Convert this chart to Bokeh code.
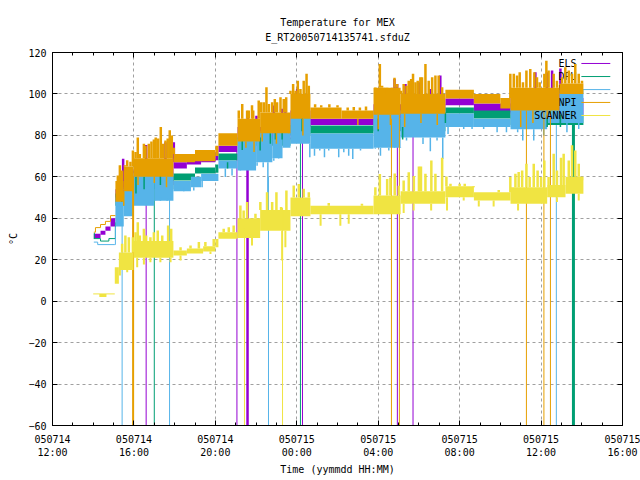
from bokeh.plotting import figure
from bokeh.embed import file_html
from bokeh.resources import INLINE
from bokeh.models import FixedTicker, LinearAxis, Title
from bokeh.core.properties import value

MONO = "DejaVu Sans Mono"
PURPLE, GREEN, BLUE, ORANGE, YELLOW = "#9400D3", "#009E73", "#56B4E9", "#E69F00", "#F0E442"

title_lines = ["Temperature for MEX", "E_RT20050714135741.sfduZ"]
x_tick_hours = [0, 4, 8, 12, 16, 20, 24, 28]
x_tick_labels = ["050714\n12:00", "050714\n16:00", "050714\n20:00", "050715\n00:00",
                 "050715\n04:00", "050715\n08:00", "050715\n12:00", "050715\n16:00"]
y_ticks = [-60, -40, -20, 0, 20, 40, 60, 80, 100, 120]
legend_names = ["ELS", "DPU", "NPD", "NPI", "SCANNER"]
legend_levels = [114.7, 108.4, 102.1, 95.9, 89.6]

orange_start_t = [2.03, 2.11, 2.36, 2.6, 2.85, 3.09]
orange_start_v = [33.3, 35.5, 37, 38.5, 41.3, 41.3]
green_start_t = [2.03, 2.36, 2.77, 3.02, 3.09]
green_start_v = [30.2, 29, 30.2, 30.2, 38]
blue_start_t = [2.03, 2.22, 3.06, 3.09]
blue_start_v = [28.5, 27.3, 27.3, 36]
yellow_start_t = [2.0, 3.06]
yellow_start_v = [3.5, 3.5]

orange_l = [3.09, 3.5, 3.98, 5.94, 7.0, 8.0, 8.15, 9.09, 10.2, 11.69, 12.67, 14.2, 15.77, 17.1, 19.3, 20.7, 22.0, 22.5, 24.9]
orange_r = [3.5, 3.98, 5.94, 7.0, 8.0, 8.15, 9.09, 10.2, 11.69, 12.67, 14.2, 15.77, 17.1, 19.3, 20.7, 22.0, 22.5, 24.9, 26.08]
orange_lo = [48, 53, 60, 67, 67.5, 70, 75, 77, 81, 88, 88, 88, 90, 90.5, 97.8, 95.4, 93, 92, 100]
orange_hi = [58, 65, 69, 71, 73, 75, 81, 88, 91, 100, 93.5, 92, 103, 100, 102, 100, 98, 103, 105]

purple_l = [2.03, 2.36, 2.6, 2.85, 3.09, 3.98, 5.94, 6.6, 7.3, 8.0, 8.15, 9.09, 11.69, 12.67, 15.77, 19.3, 20.7, 22.5]
purple_r = [2.36, 2.6, 2.85, 3.09, 3.98, 5.94, 6.6, 7.3, 8.0, 8.15, 9.09, 11.69, 12.67, 15.77, 19.3, 20.7, 22.5, 26.08]
purple_lo = [30.5, 32, 34, 36, 48, 56, 64, 66, 67, 68, 72, 78, 84, 85, 88, 94.5, 91, 90]
purple_hi = [32.5, 34, 36, 40, 54, 64, 67, 69, 70.3, 72, 75, 84, 92, 88, 95, 97.8, 95.4, 98]

green_l = [2.03, 3.09, 3.98, 5.94, 7.0, 8.0, 8.15, 9.09, 11.69, 12.67, 15.77, 19.3, 20.7, 22.5]
green_r = [2.08, 3.98, 5.94, 7.0, 8.0, 8.15, 9.09, 11.69, 12.67, 15.77, 19.3, 20.7, 22.5, 26.08]
green_lo = [30, 46, 54, 58.2, 61.6, 62, 67.9, 75, 80, 80.9, 82, 90.6, 88.2, 85]
green_hi = [33, 52, 60, 61.6, 64.5, 66, 71.2, 79, 85, 84.8, 88, 93.5, 92, 90]

blue_l = [3.09, 3.5, 3.98, 5.0, 5.94, 6.8, 7.3, 8.15, 9.09, 10.0, 10.8, 11.3, 11.69, 12.67, 15.77, 17.1, 19.3, 20.7, 22.5, 24.3, 24.9]
blue_r = [3.5, 3.98, 5.0, 5.94, 6.8, 7.3, 8.15, 9.09, 10.0, 10.8, 11.3, 11.69, 12.67, 15.77, 17.1, 19.3, 20.7, 22.5, 24.3, 24.9, 26.08]
blue_lo = [36, 41, 46, 48.5, 53, 55, 58, 64, 63, 67, 69, 74, 76, 73.6, 74, 79, 84, 84, 83, 86, 86]
blue_hi = [50, 55, 62, 62, 58, 60, 61.5, 67.9, 79, 82, 84, 86, 90, 80.9, 92, 92, 90.6, 88, 94, 96, 102]

yellow_l = [2.3, 3.06, 3.26, 3.98, 5.94, 6.6, 7.4, 8.0, 8.15, 9.09, 10.2, 11.69, 12.67, 15.77, 17.1, 19.3, 20.7, 22.5, 24.3, 25.2]
yellow_r = [2.65, 3.26, 3.98, 5.94, 6.6, 7.4, 8.0, 8.15, 9.09, 10.2, 11.69, 12.67, 15.77, 17.1, 19.3, 20.7, 22.5, 24.3, 25.2, 26.08]
yellow_lo = [2, 8.4, 15, 21, 22, 23, 24, 26, 30.1, 30.5, 34, 41, 42, 42, 47, 50.2, 48.6, 47, 50.2, 51.8]
yellow_hi = [3.5, 16.4, 23.5, 29, 24.5, 25.4, 26.5, 30, 33.3, 40, 44, 50, 46, 51, 53, 55.4, 52.6, 55, 56, 60]

orange_peak_t = [3.21, 3.31, 3.42, 3.55, 3.67, 3.83, 3.95, 4.08, 4.19, 4.29, 4.49, 4.57, 4.73, 4.86, 4.98, 5.07, 5.19, 5.32, 5.42, 5.55, 5.66, 5.76, 5.86, 5.96,
                 9.15, 9.32, 9.56, 9.64, 9.8, 9.86, 10.13, 10.25, 10.38, 10.51, 10.63, 10.79, 10.92, 11.03, 11.2, 11.36, 11.48, 11.69, 11.82, 11.94, 12.05, 12.18, 12.34, 12.48, 12.59,
                 12.9, 13.2, 13.6, 14.0, 14.5, 14.8, 15.1, 15.4,
                 15.86, 16.08, 16.19, 16.31, 16.44, 16.68, 16.8, 16.93, 17.12, 17.25, 17.39, 17.5, 17.62, 17.71, 17.83, 17.94, 18.07, 18.15, 18.32, 18.48, 18.65, 18.81, 18.97, 19.14,
                 22.49, 22.66, 22.82, 22.95, 23.11, 23.28, 23.47, 23.67, 23.8, 23.93, 24.16, 24.26, 24.37, 24.62, 24.78, 25.03, 25.19, 25.36, 25.52, 25.68, 25.85, 26.01]
orange_peak_v = [60.7, 65.6, 63, 65.6, 68, 67.3, 72.7, 72, 79, 71, 76, 75, 76, 77, 78, 79, 78.5, 84, 76, 77.5, 78.5, 82.5, 80, 74,
                 92, 95.2, 92, 92, 94.5, 92, 96.8, 96, 96, 103.2, 95.2, 96, 97.6, 96, 98.4, 97.6, 98.4, 101.6, 104.8, 101.6, 106.4, 102.4, 106.4, 109.7, 104,
                 95, 94.5, 95, 94.5, 93.5, 93.7, 93.5, 94,
                 103.2, 114.5, 104, 100, 102.4, 101.6, 107.8, 104.8, 101.6, 104.8, 104, 106.4, 107.2, 109.7, 105.6, 106.4, 108, 108, 114.5, 106.4, 108, 108.9, 108.9, 103.2,
                 109.7, 109.7, 108.9, 110.5, 105.6, 111.3, 112, 110.5, 108, 105.6, 109.7, 116, 111.3, 109.7, 106.4, 108, 112.9, 111.3, 109.7, 114.5, 109.7, 106.4]

purple_peak_t = [3.47, 4.6, 5.55, 5.96, 9.59, 10.02, 10.87, 11.28, 11.44, 12.02, 15.91, 16.39, 16.8, 16.93, 17.34, 18.0, 18.56, 19.05, 23.72, 24.29, 24.54, 24.95]
purple_peak_v = [68.7, 75.4, 76.7, 76.7, 89.5, 89.5, 94.4, 92.8, 97.6, 102.4, 102.4, 102.4, 107.2, 104.8, 104.8, 105.6, 102.4, 108.9, 110.5, 110.5, 111.3, 112.3]

yellow_peak_t = [3.42, 3.58, 3.75, 3.95, 4.08, 4.19, 4.29, 4.49, 4.6, 4.81, 4.98, 5.17, 5.39, 5.68, 5.83, 6.29, 6.78, 7.19, 7.51, 7.92,
                 8.41, 8.66, 8.9, 9.23, 9.39, 9.56, 9.97, 10.21, 10.54, 10.79, 11.0, 11.23, 11.49, 11.85, 12.1, 12.34, 12.59, 13.57, 15.2,
                 15.86, 16.08, 16.44, 16.6, 16.81, 17.01, 17.25, 17.5, 17.75, 18.0, 18.1, 18.32, 18.61, 18.81, 19.14, 19.35, 19.55, 20.0, 20.25, 20.69, 21.92,
                 22.49, 22.74, 22.9, 23.07, 23.28, 23.44, 23.64, 23.83, 24.0, 24.16, 24.37, 24.62, 24.78, 24.98, 25.11, 25.36, 25.52, 25.68, 25.85, 26.01]
yellow_peak_v = [27.7, 31.7, 30.9, 30.9, 33.3, 38.1, 31.7, 34.9, 31.7, 30.9, 33.3, 34.1, 31.7, 36.5, 34.9, 26, 26.9, 28.5, 28.5, 30,
                 34.9, 35.7, 36.5, 46.2, 43.8, 47.8, 42.2, 47.8, 52.6, 47.8, 52.6, 45.4, 53.4, 55.8, 56.6, 54.2, 52.6, 47.4, 47,
                 55, 61.4, 59, 59.7, 61.6, 55.7, 58.2, 62.2, 60.4, 65, 65, 61.5, 67.9, 61.5, 69.2, 60.2, 56.7, 56.7, 56.7, 55, 53.7,
                 59.9, 61.5, 62.3, 63.1, 66.3, 59.9, 66.3, 63.1, 59.9, 67.9, 59.9, 71.1, 63.1, 69.2, 71.1, 67.9, 75.2, 72.7, 66.3, 58.3]

blue_dip_t = [4.57, 5.06, 5.3, 5.63, 6.45, 6.94, 7.35, 8.49, 8.82, 9.23, 9.56, 9.97, 10.05, 10.35, 10.58, 10.87, 11.11,
              12.64, 12.87, 13.13, 13.36, 13.57, 14.06, 14.31, 14.55, 14.75, 15.13, 15.45, 15.86, 16.11, 16.52, 16.8, 17.09, 17.39,
              18.2, 18.56, 18.89, 19.17, 19.43, 20.2, 20.61, 21.18, 21.84, 22.3, 22.85, 23.1, 23.64, 24.13, 25.27, 25.85]
blue_dip_v = [46.2, 48.6, 50.2, 49.4, 55, 53.4, 55, 59.9, 60.7, 63.4, 63, 63, 65.4, 64.6, 49.3, 67.8, 68.7,
              69.4, 70.2, 72.7, 69.4, 72.7, 69.4, 71.9, 70.2, 68.6, 72.7, 73.5, 73.5, 70.2, 72.7, 76.7, 74.3, 77.5,
              75.9, 72.3, 77.5, 68.6, 80.7, 83.1, 83.1, 83.1, 81.5, 81.5, 81.5, 77.5, 77.5, 79.9, 81.5, 83.1]

yellow_dip_t = [3.31, 3.67, 4.16, 4.49, 4.81, 5.3, 5.8, 6.29, 7.76, 9.8, 11.28, 11.44, 13.17, 14.14, 14.55,
                17.25, 17.74, 18.6, 19.38, 20.2, 20.94, 21.67, 22.87, 23.8, 24.78, 25.85]
yellow_dip_v = [12.4, 14, 16.4, 17.7, 18.8, 18.8, 18.8, 19.6, 22.8, 26.9, 19.6, 26, 36.4, 36.4, 37.3,
                42.5, 43.8, 43.8, 43.8, 48.6, 45.7, 45.7, 43.8, 47, 47.8, 48.6]

orange_dip_t = [3.5, 4.2, 5.0, 5.6, 9.5, 9.9, 10.3, 11.0, 11.6, 12.3, 15.0, 16.0, 16.6, 17.3, 18.1, 18.9, 23.0, 23.6, 24.3]
orange_dip_v = [46, 56, 57, 55, 74, 72, 77, 76, 83, 80, 85, 83, 85, 84, 86, 85, 84, 86, 88]

green_mark_t = [3.4, 4.1, 4.5, 5.3, 8.6, 9.32, 10.2, 10.7, 10.95, 11.28, 12.26, 16.0, 17.2, 19.3, 24.3, 24.95]
green_mark_lo = [48, 52, 54, 56, 64, 73, 72.7, 76, 78, 78, 82, 82, 78, 86, 84, 84]
green_mark_hi = [54, 60, 60, 62, 67, 79, 79, 81, 82, 84, 90, 88, 84, 91, 90, 90]

purple_drop_t = [4.6, 9.06, 12.28, 16.94, 17.71]
purple_drop_v = [58, 72, 85, 85, 85]
purple_wide_t = [9.58]
purple_wide_v = [78]
green_drop_t = [5.0, 12.18]
green_drop_v = [58, 80]
green_wide_t = [25.59]
green_wide_v = [85]
blue_drop_t = [3.42, 5.75, 10.61, 24.75]
blue_drop_v = [42, 50, 60, 85]
orange_drop_t = [16.65, 17.04, 23.28, 24.14, 24.46]
orange_drop_v = [88, 90, 92, 92, 92]
orange_wide_t = [3.96]
orange_wide_v = [60]
yellow_drop_t = [9.43, 11.3]
yellow_drop_v = [35, 45]

Y_MIN, Y_MAX = -60, 120
X_MIN, X_MAX = 0, 28

p = figure(width=640, height=480, output_backend="svg", toolbar_location=None,
           x_range=(X_MIN, X_MAX), y_range=(Y_MIN, Y_MAX),
           min_border_left=52, min_border_right=18, min_border_top=52, min_border_bottom=55,
           background_fill_color="white", border_fill_color="white")
p.outline_line_color = "black"
p.outline_line_width = 1

minor_hours = [h for h in range(X_MIN, X_MAX + 1) if h not in x_tick_hours]
xt = FixedTicker(ticks=x_tick_hours, minor_ticks=minor_hours)
yt = FixedTicker(ticks=y_ticks)


def style_axis(ax):
    ax.axis_line_color = "black"
    ax.major_tick_line_color = "black"
    ax.minor_tick_line_color = "black"
    ax.major_tick_in = 5
    ax.major_tick_out = 0
    ax.minor_tick_in = 3
    ax.minor_tick_out = 0
    ax.major_label_text_font = MONO
    ax.major_label_text_font_size = "10px"
    ax.major_label_text_color = "black"
    ax.axis_label_text_font = MONO
    ax.axis_label_text_font_size = "10px"
    ax.axis_label_text_font_style = "normal"
    ax.axis_label_text_color = "black"


p.xaxis[0].ticker = xt
p.xaxis[0].major_label_overrides = {t: s for t, s in zip(x_tick_hours, x_tick_labels)}
p.xaxis[0].axis_label = "Time (yymmdd HH:MM)"
p.xaxis[0].major_label_standoff = 8
p.xaxis[0].axis_label_standoff = 3
p.yaxis[0].ticker = yt
p.yaxis[0].axis_label = "°C"
p.yaxis[0].major_label_standoff = 6
p.yaxis[0].axis_label_standoff = 6
style_axis(p.xaxis[0])
style_axis(p.yaxis[0])
p.yaxis[0].minor_tick_line_color = None

top = LinearAxis(ticker=xt)
right = LinearAxis(ticker=yt)
p.add_layout(top, "above")
p.add_layout(right, "right")
for ax in (top, right):
    style_axis(ax)
    ax.major_label_text_font_size = "0px"
    ax.major_label_text_color = None
top.axis_label = title_lines[1]
top.axis_label_standoff = 10
right.minor_tick_line_color = None

p.xgrid.ticker = xt
p.ygrid.ticker = yt
for g in (p.xgrid[0], p.ygrid[0]):
    g.grid_line_color = "#a0a0a0"
    g.grid_line_dash = "3 3"
    g.grid_line_width = 1

KEY_TEXT_H = 25.74
KEY_LINE_L, KEY_LINE_R = 25.98, 27.4


def key(i, color):
    p.text([KEY_TEXT_H], [legend_levels[i]], text=[legend_names[i]], text_font=value(MONO),
           text_font_size="10px", text_align="right", text_baseline="middle", text_color="black")
    p.line([KEY_LINE_L, KEY_LINE_R], [legend_levels[i]] * 2, line_color=color, line_width=1)


def band(l, r, lo, hi, color):
    p.quad(left=l, right=r, bottom=lo, top=hi, fill_color=color, line_color=None)


def strokes(t, lo, hi, color, w=2.5):
    p.segment(x0=t, x1=t, y0=lo, y1=hi, line_color=color, line_width=w)


def peaks(t, v, base_l, base_r, base_hi, color):
    lo = []
    for tt in t:
        b = base_hi[0]
        for a, c, h in zip(base_l, base_r, base_hi):
            if a <= tt < c:
                b = h
        lo.append(b)
    strokes(t, lo, v, color)


def dips(t, v, base_l, base_r, base_lo, color, w=1.5):
    hi = []
    for tt in t:
        b = base_lo[0]
        for a, c, h in zip(base_l, base_r, base_lo):
            if a <= tt < c:
                b = h
        hi.append(b)
    strokes(t, v, hi, color, w)


def drops(t, v, color, w=1.0):
    strokes(t, [Y_MIN] * len(t), v, color, w)


key(0, PURPLE)
band(purple_l, purple_r, purple_lo, purple_hi, PURPLE)
peaks(purple_peak_t, purple_peak_v, purple_l, purple_r, purple_hi, PURPLE)
drops(purple_drop_t, purple_drop_v, PURPLE)
drops(purple_wide_t, purple_wide_v, PURPLE, 2.5)

key(1, GREEN)
band(green_l, green_r, green_lo, green_hi, GREEN)
p.step(green_start_t, green_start_v, mode="after", line_color=GREEN, line_width=1)
drops(green_drop_t, green_drop_v, GREEN)
drops(green_wide_t, green_wide_v, GREEN, 3)

key(2, BLUE)
band(blue_l, blue_r, blue_lo, blue_hi, BLUE)
p.step(blue_start_t, blue_start_v, mode="after", line_color=BLUE, line_width=1)
dips(blue_dip_t, blue_dip_v, blue_l, blue_r, blue_lo, BLUE)
drops(blue_drop_t, blue_drop_v, BLUE)
strokes(green_mark_t, green_mark_lo, green_mark_hi, GREEN, 1.5)

key(3, ORANGE)
band(orange_l, orange_r, orange_lo, orange_hi, ORANGE)
p.step(orange_start_t, orange_start_v, mode="after", line_color=ORANGE, line_width=1)
peaks(orange_peak_t, orange_peak_v, orange_l, orange_r, orange_hi, ORANGE)
dips(orange_dip_t, orange_dip_v, orange_l, orange_r, orange_lo, ORANGE)
drops(orange_drop_t, orange_drop_v, ORANGE)
drops(orange_wide_t, orange_wide_v, ORANGE, 2)

key(4, YELLOW)
band(yellow_l, yellow_r, yellow_lo, yellow_hi, YELLOW)
p.line(yellow_start_t, yellow_start_v, line_color=YELLOW, line_width=1)
peaks(yellow_peak_t, yellow_peak_v, yellow_l, yellow_r, yellow_hi, YELLOW)
dips(yellow_dip_t, yellow_dip_v, yellow_l, yellow_r, yellow_lo, YELLOW, 2)
drops(yellow_drop_t, yellow_drop_v, YELLOW)

p.add_layout(Title(text=title_lines[0], align="center", text_font=MONO, text_font_size="10px",
                   text_font_style="normal", text_color="black", standoff=1), "above")

open("out.html", "w").write(file_html(p, INLINE))
